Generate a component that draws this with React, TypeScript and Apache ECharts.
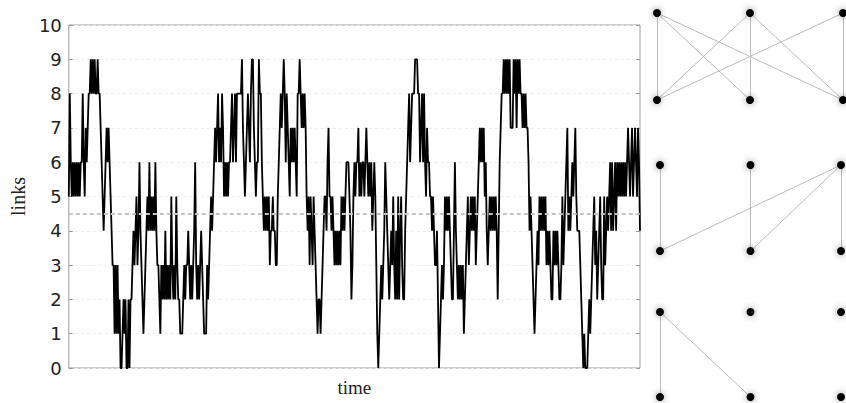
import React, { useEffect, useRef } from "react";
import * as echarts from "echarts";

// number of links over time (one sample per time step)
const links: number[] = [
  5, 8, 6, 5, 6, 5, 6, 5, 6, 5, 6, 5, 6, 6, 8, 6, 5, 7, 6, 7, 8, 8, 9, 8, 9, 8, 9, 8, 8, 9, 8, 8, 7, 6, 5, 4, 5, 6, 7, 6, 7, 6, 5, 4,
  3, 3, 1, 3, 1, 3, 1, 2, 0, 0, 1, 2, 1, 2, 0, 0, 2, 0, 2, 2,
  3, 4, 3, 4, 5, 3, 4, 6, 4, 3, 2, 1, 2, 3, 4, 5, 4, 6, 4, 5, 4, 5, 4, 6, 4, 3, 3, 2, 1, 3, 2, 3, 2, 4, 2, 3, 2, 3, 2, 5, 3, 2, 3, 2,
  5, 3, 2, 2, 1, 1, 1, 2, 3, 2, 3, 3, 4, 3, 2, 3, 2, 3, 4, 6, 3, 2, 3, 2, 3, 4, 3, 2, 1, 1, 1, 3, 2, 3, 4, 5, 4, 5,
  6, 7, 6, 7, 8, 6, 7, 6, 8, 7, 5, 6, 5, 6, 5, 6, 6, 7, 8, 6, 7, 8, 6, 8, 8, 8, 8, 8, 9, 7, 6, 5, 6, 7, 8, 7, 6, 8, 9, 9, 7, 6, 5, 6,
  6, 9, 8, 8, 6, 5, 4, 5, 4, 5, 4, 5, 3, 4, 4, 5, 4, 4, 3, 3, 5, 6, 7, 8, 7, 8, 9, 8, 6, 8, 7, 6, 5, 7, 6, 7, 6, 7, 6, 5, 8, 8, 9, 8,
  7, 8, 7, 8, 7, 5, 4, 5, 3, 5, 4, 3, 5, 4, 3, 2, 1, 2, 2, 1, 2, 3, 4, 5, 5, 4, 6, 7, 5, 5, 4, 5, 4, 3, 4, 3, 4, 3, 4, 3, 5, 4, 5, 4,
  5, 6, 6, 6, 5, 4, 2, 3, 5, 6, 5, 6, 6, 7, 5, 6, 5, 6, 6, 5, 6, 7, 6, 5, 6, 5, 6, 4, 5, 6, 5, 3, 1, 0, 1, 2, 3, 2, 3, 4, 6, 5, 4, 3,
  2, 3, 4, 3, 5, 3, 2, 4, 2, 5, 2, 4, 5, 3, 2, 2, 4, 5, 6, 7, 8, 6, 7, 8, 8, 8, 9, 9, 9, 8, 8, 6, 7, 8, 6, 8, 6, 5, 7, 6, 6, 5, 5, 4,
  5, 4, 3, 3, 4, 2, 0, 1, 2, 3, 2, 3, 5, 4, 5, 4, 5, 4, 3, 2, 2, 4, 6, 4, 3, 2, 3, 2, 3, 2, 3, 1, 2, 3, 4, 5, 3, 4, 5, 4, 5, 4, 5, 3,
  4, 5, 6, 7, 6, 7, 6, 7, 5, 6, 4, 3, 4, 5, 4, 5, 4, 5, 4, 5, 4, 2, 4, 6, 7, 8, 8, 9, 8, 9, 8, 9, 8, 9, 7, 7, 7, 9, 8, 9, 7, 9, 8, 9,
  8, 8, 7, 8, 7, 8, 7, 7, 6, 4, 5, 4, 3, 2, 1, 2, 3, 4, 3, 5, 4, 5, 4, 5, 4, 5, 3, 4, 3, 4, 3, 2, 2, 4, 3, 4, 3, 4, 3, 2, 2, 3, 5, 3,
  4, 5, 6, 7, 4, 5, 4, 5, 6, 5, 6, 7, 5, 4, 4, 4, 3, 2, 1, 0, 1, 0, 0, 0, 1, 2, 1, 2, 3, 4, 5, 3, 4, 2, 3, 4, 5, 3, 2, 2, 5, 3, 4, 5,
  4, 5, 6, 4, 6, 4, 5, 6, 4, 6, 5, 6, 5, 6, 5, 6, 5, 6, 5, 6, 7, 6, 5, 6, 7, 5, 6, 7, 6, 5, 7, 6, 4,
];

const meanLinks = 4.5;
const yTicks = [0, 1, 2, 3, 4, 5, 6, 7, 8, 9, 10];

// snapshots of the network: 3 top nodes, 3 bottom nodes, edges as [topColumn, bottomColumn]
const nodeColumns = [0, 1, 2];
const snapshotEdges: number[][][] = [
  [[0, 0], [0, 1], [0, 2], [1, 0], [1, 1], [1, 2], [2, 0], [2, 2]],
  [[0, 0], [1, 1], [2, 0], [2, 1], [2, 2]],
  [[0, 0], [0, 1]],
];

const panelBoxes = [
  { left: 657, top: 13, width: 186, height: 87 },
  { left: 660, top: 165, width: 181, height: 86 },
  { left: 660, top: 312, width: 181, height: 85 },
];

export default function App() {
  const ref = useRef<HTMLDivElement>(null);

  useEffect(() => {
    if (!ref.current) return;
    const chart = echarts.init(ref.current, null, { renderer: "svg" });

    const serif = "Liberation Serif";
    const sans = "DejaVu Sans";

    const grids: any[] = [
      {
        left: 66,
        right: 206,
        top: 25,
        bottom: 35,
        show: true,
        borderColor: "#9a9a9a",
        borderWidth: 1,
        backgroundColor: "transparent",
      },
    ];
    const xAxes: any[] = [
      {
        type: "value",
        gridIndex: 0,
        min: 0,
        max: links.length - 1,
        name: "time",
        nameLocation: "middle",
        nameGap: 10,
        nameTextStyle: { fontFamily: serif, fontSize: 19, color: "#222" },
        axisLine: { show: false },
        axisTick: { show: false },
        axisLabel: { show: false },
        splitLine: { show: false },
      },
    ];
    const yAxes: any[] = [
      {
        type: "value",
        gridIndex: 0,
        min: 0,
        max: 10,
        interval: 1,
        name: "links",
        nameLocation: "middle",
        nameGap: 38,
        nameRotate: 90,
        nameTextStyle: { fontFamily: serif, fontSize: 20, color: "#222" },
        axisLine: { show: false },
        axisTick: { show: true, inside: true, length: 4, lineStyle: { color: "#9a9a9a" } },
        axisLabel: {
          fontFamily: sans,
          fontSize: 18,
          color: "#222",
          margin: 7,
          formatter: (v: number) => (yTicks.includes(v) ? String(v) : ""),
        },
        splitLine: { show: true, lineStyle: { color: "#ececec", type: [3, 3], width: 1 } },
      },
      {
        type: "value",
        gridIndex: 0,
        position: "right",
        min: 0,
        max: 10,
        interval: 1,
        axisLine: { show: false },
        axisTick: { show: true, inside: true, length: 4, lineStyle: { color: "#9a9a9a" } },
        axisLabel: { show: false },
        splitLine: { show: false },
      },
    ];

    const series: any[] = [
      {
        type: "line",
        xAxisIndex: 0,
        yAxisIndex: 0,
        data: links.map((v, i) => [i, v]),
        showSymbol: false,
        symbol: "none",
        lineStyle: { color: "#000", width: 1.8 },
        markLine: {
          silent: true,
          symbol: "none",
          label: { show: false },
          lineStyle: { color: "#c4c4c4", type: [4, 3], width: 2 },
          data: [{ yAxis: meanLinks }],
        },
        z: 3,
      },
    ];

    snapshotEdges.forEach((edges, p) => {
      const gi = p + 1;
      grids.push({ ...panelBoxes[p], show: false });
      xAxes.push({ type: "value", gridIndex: gi, min: 0, max: 2, show: false });
      yAxes.push({ type: "value", gridIndex: gi, min: 0, max: 1, show: false });
      const nodes = [
        ...nodeColumns.map((c) => [c, 1]),
        ...nodeColumns.map((c) => [c, 0]),
      ];
      series.push({
        type: "graph",
        coordinateSystem: "cartesian2d",
        xAxisIndex: gi,
        yAxisIndex: gi + 1,
        symbol: "circle",
        symbolSize: 8,
        itemStyle: {
          color: "#000",
          shadowBlur: 7,
          shadowColor: "rgba(0,0,0,0.45)",
        },
        lineStyle: { color: "#bcbcbc", width: 1, opacity: 1 },
        label: { show: false },
        data: nodes,
        links: edges.map(([t, b]) => ({ source: t, target: 3 + b })),
        z: 4,
      });
    });

    chart.setOption({
      animation: false,
      backgroundColor: "#fff",
      grid: grids,
      xAxis: xAxes,
      yAxis: yAxes,
      series,
    });

    return () => chart.dispose();
  }, []);

  return <div ref={ref} style={{ width: 846, height: 403, position: "absolute", left: 0, top: 0 }} />;
}
